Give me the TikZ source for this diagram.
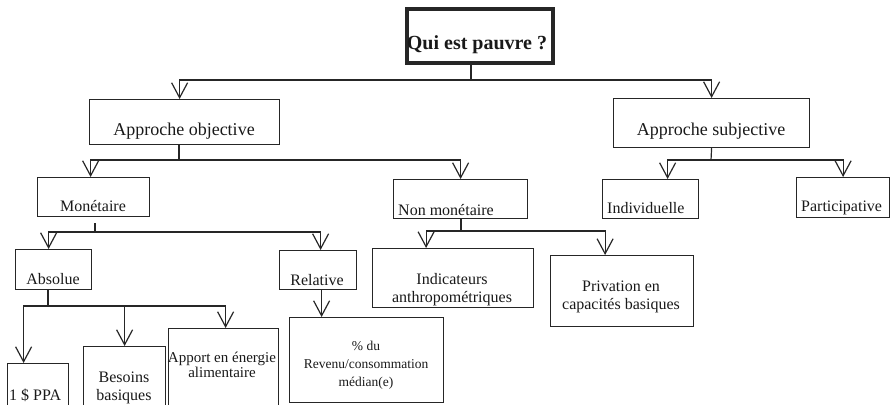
\documentclass[tikz,border=0pt]{standalone}
\usepackage{fontspec}
\setmainfont{Liberation Serif}
\usetikzlibrary{arrows.meta}
\begin{document}
\begin{tikzpicture}[x=1pt,y=-1pt,
  box/.style={draw=black!85, line width=1.2pt, rectangle, inner sep=0pt, anchor=north west},
  conn/.style={draw=black!85, line width=1.2pt},
  arr/.style={conn, -{Straight Barb[length=15pt,width=16pt]}},
  lbl/.style={inner sep=0pt, anchor=base, text=black!90, font=\fontsize{16}{18}\selectfont},
  lblw/.style={lbl, anchor=base west},
  big/.style={lbl, font=\fontsize{18}{20}\selectfont},
]
\useasboundingbox (0,0) rectangle (890,404);
\clip (0,0) rectangle (890,404);

% boxes
\node[box, line width=4pt, minimum width=146pt, minimum height=54pt] (root) at (405,7) {};
\node[box, minimum width=190pt, minimum height=45pt] (AO) at (89,99) {};
\node[box, minimum width=196pt, minimum height=49pt] (AS) at (613,98) {};
\node[box, minimum width=112pt, minimum height=39pt] (Mon) at (37,177) {};
\node[box, minimum width=134pt, minimum height=39pt] (NonMon) at (393,179) {};
\node[box, minimum width=96pt, minimum height=39pt] (Indiv) at (602,179) {};
\node[box, minimum width=93pt, minimum height=40pt] (Partic) at (796,177) {};
\node[box, minimum width=76pt, minimum height=40pt] (Abs) at (15,249) {};
\node[box, minimum width=77pt, minimum height=39pt] (Rel) at (279,250) {};
\node[box, minimum width=161pt, minimum height=59pt] (Indic) at (372,248) {};
\node[box, minimum width=143pt, minimum height=71pt] (Priv) at (550,255) {};
\node[box, minimum width=154pt, minimum height=85pt] (Pct) at (289,317) {};
\node[box, minimum width=61pt, minimum height=60pt] (PPA) at (7,363) {};
\node[box, minimum width=82pt, minimum height=70pt] (Bes) at (83,346) {};
\node[box, minimum width=110pt, minimum height=90pt] (App) at (168,328) {};

% texts (multi-line nodes: base anchor = last line baseline)
\node[lbl, font=\bfseries\fontsize{20}{22}\selectfont] (tRoot) at (477,49) {Qui est pauvre ?};
\node[big] (tAO) at (184,135) {Approche objective};
\node[big] (tAS) at (711,135) {Approche subjective};
\node[lbl] (tMon) at (93,211) {Monétaire};
\node[lblw] (tNonMon) at (398,215) {Non monétaire};
\node[lblw] (tIndiv) at (607,213) {Individuelle};
\node[lblw] (tPartic) at (801,211) {Participative};
\node[lbl] (tAbs) at (53,284) {Absolue};
\node[lbl] (tRel) at (317,285) {Relative};
\node[lbl, align=center] (tIndic) at (452,302) {Indicateurs\\anthropométriques};
\node[lbl, align=center] (tPriv) at (621,309) {Privation en\\capacités basiques};
\node[lbl, align=center, font=\fontsize{13.5}{18}\selectfont] (tPct) at (366,386) {\% du\\Revenu/consommation\\médian(e)};
\node[lblw] (tPPA) at (9,400) {1 \$ PPA};
\node[lbl, align=center] (tBes) at (124,400) {Besoins\\basiques};
\node[lbl, align=center, font=\fontsize{15}{15}\selectfont] (tApp) at (222,377) {Apport en énergie\\alimentaire};

% connectors
\coordinate (j0) at (471,80);
\draw[conn] (root.south -| j0) -- (j0);
\draw[arr] (j0) -| ([xshift=-5pt]AO.north);
\draw[arr] (j0) -| (AS.north);

\coordinate (j1) at (179,160);
\draw[conn] (AO.south -| j1) -- (j1);
\draw[arr] (j1) -| ([xshift=-3pt]Mon.north);
\draw[arr] (j1) -| (NonMon.north);

\coordinate (j2) at (711,160);
\draw[conn] (AS.south) -- (j2);
\draw[arr] (j2) -| ([xshift=17pt]Indiv.north);
\draw[arr] (j2) -| (Partic.north);

\coordinate (j3) at (95,232);
\draw[conn] ([yshift=-6pt]Mon.south -| j3) -- (j3);
\draw[arr] (j3) -| ([xshift=-5pt]Abs.north);
\draw[arr] (j3) -| ([xshift=2.5pt]Rel.north);

\coordinate (j4) at (461,231);
\draw[conn] (NonMon.south -| j4) -- (j4);
\draw[arr] (j4) -| ([xshift=-27pt]Indic.north);
\draw[arr] (j4) -| ([xshift=-17pt]Priv.north);

\coordinate (j5) at (48,306);
\draw[conn] (Abs.south -| j5) -- (j5);
\draw[arr] (j5) -| ([xshift=-14.5pt]PPA.north);
\draw[arr] (j5) -| (Bes.north);
\draw[arr] (j5) -| ([xshift=2pt]App.north);

\coordinate (j6) at ([xshift=3.5pt]Rel.south);
\draw[arr] (j6) -- (Pct.north -| j6);
\end{tikzpicture}
\end{document}
